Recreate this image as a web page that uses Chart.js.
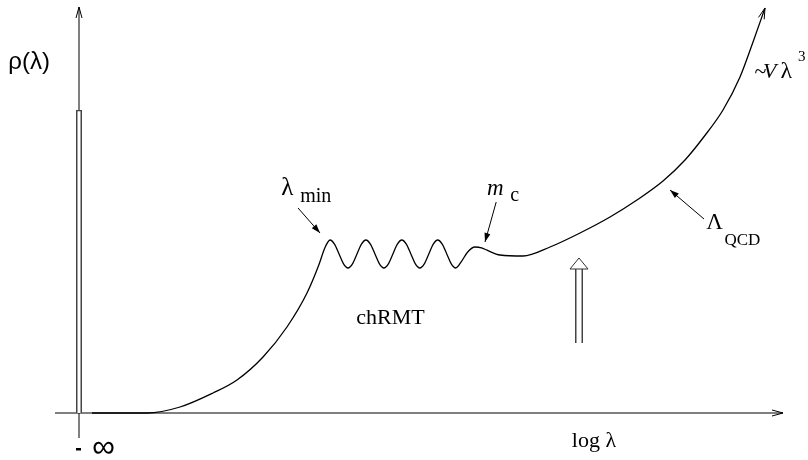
<!DOCTYPE html>
<html>
<head>
<meta charset="utf-8">
<script src="https://cdn.jsdelivr.net/npm/chart.js@4.4.0/dist/chart.umd.min.js"></script>
<style>
html, body { margin: 0; padding: 0; background: #fff; }
#wrap { width: 808px; height: 460px; }
</style>
</head>
<body>
<div id="wrap"><canvas id="rhoChart" width="808" height="460"></canvas></div>
<script>
// spectral density sketch: x = log lambda, y = rho (arbitrary units)
const curveX = [1.86, 9.71, 14.43, 19.14, 22.57, 26.29, 29.71, 32.57, 34.3, 35.1,
  35.86, 36.5, 37.15, 37.79, 38.43, 39.07, 39.71, 40.35,
  40.99, 41.63, 42.28, 42.92, 43.56, 44.2, 44.84, 45.48,
  46.12, 46.76, 47.41, 48.05, 48.69, 49.33, 49.97, 50.61,
  51.25, 51.89, 52.54, 53.18, 53.82, 54.6, 55.5, 56.57, 57.5, 58.29,
  60.14, 63.43, 67.29, 71.57, 75.86, 79.71, 83.43, 86.57, 89.14, 92.0, 94.43, 96.29, 98.0];
const curveY = [0, 0, 1.5, 5, 8.25, 14, 21.5, 30, 37.2, 41.2,
  43.25, 42.22, 39.75, 37.28, 36.25, 37.28, 39.75, 42.22,
  43.25, 42.22, 39.75, 37.28, 36.25, 37.28, 39.75, 42.22,
  43.25, 42.22, 39.75, 37.28, 36.25, 37.28, 39.75, 42.22,
  43.25, 42.22, 39.75, 37.28, 36.25, 37.8, 40.2, 41.5, 41.3, 40.7,
  39.5, 39.25, 41.5, 45, 49, 53.25, 58, 63.25, 68.75, 75.75, 84, 92.75, 101.25];

// delta peak at lambda = 0 (log lambda -> -infinity)
const spikeX = [0, 0];
const spikeY = [0, 75.75];

// hollow arrow marking the scale
const markX = [71.43, 71.43];
const markY = [17.5, 36];
const markTip = 38.75;

const pts = (xs, ys) => xs.map((x, i) => ({ x: x, y: ys[i] }));

// labels: [text, x, y, font]
const labels = [
  ['ρ(λ)', -10.1, 86, '24px "Liberation Sans"'],
  ['chRMT', 39.6, 22.25, '22px "Liberation Serif"'],
  ['log λ', 70.4, -8.5, '22px "Liberation Serif"'],
  ['λ', 28.9, 54.5, '25px "Liberation Serif"'],
  ['min', 31.6, 52.75, '20px "Liberation Serif"'],
  ['m', 58.3, 54.5, 'italic 23px "Liberation Serif"'],
  ['c', 61.6, 53, '20px "Liberation Serif"'],
  ['Λ', 89.6, 46, '23px "Liberation Serif"'],
  ['QCD', 92.2, 42, '17px "Liberation Serif"'],
  ['~', 96.5, 83.75, '22px "Liberation Serif"'],
  ['V', 97.7, 83.75, 'italic 22px "Liberation Serif"'],
  ['λ', 100.2, 83.75, '24px "Liberation Serif"'],
  ['3', 102.7, 88, '15px "Liberation Serif"'],
  ['∞', 1.9, -11, '32px "Liberation Sans"']
];

// pointer arrows: [fromX, fromY, toX, toY]
const pointers = [
  [31.29, 51.25, 34.43, 45],
  [59.6, 52.75, 58.0, 42.75],
  [89.29, 48.5, 84.43, 55.75]
];

function arrowHead(ctx, x1, y1, x2, y2, len, half, filled) {
  const a = Math.atan2(y2 - y1, x2 - x1);
  const bx = x2 - len * Math.cos(a), by = y2 - len * Math.sin(a);
  const px = -Math.sin(a) * half, py = Math.cos(a) * half;
  ctx.beginPath();
  if (filled) {
    ctx.moveTo(x2, y2);
    ctx.lineTo(bx + px, by + py);
    ctx.lineTo(bx - px, by - py);
    ctx.closePath();
    ctx.fill();
  } else {
    ctx.moveTo(bx + px, by + py);
    ctx.lineTo(x2, y2);
    ctx.lineTo(bx - px, by - py);
    ctx.stroke();
  }
}

const sketch = {
  id: 'sketch',
  beforeDatasetsDraw(chart) {
    const { ctx, chartArea, scales: { x, y } } = chart;
    const x0 = x.getPixelForValue(0), y0 = y.getPixelForValue(0);
    ctx.save();
    ctx.strokeStyle = '#000';
    ctx.fillStyle = '#000';
    ctx.lineWidth = 1;
    // y axis
    ctx.beginPath();
    ctx.moveTo(x0, y0 + 25);
    ctx.lineTo(x0, chartArea.top + 4);
    ctx.stroke();
    arrowHead(ctx, x0, y0, x0, chartArea.top + 4, 11, 3, false);
    // x axis
    ctx.beginPath();
    ctx.moveTo(x0 - 24, y0);
    ctx.lineTo(chartArea.right + 4, y0);
    ctx.stroke();
    arrowHead(ctx, x0, y0, chartArea.right + 4, y0, 11, 3, false);
    ctx.restore();
  },
  afterDatasetsDraw(chart) {
    const { ctx, scales: { x, y } } = chart;
    ctx.save();
    ctx.strokeStyle = '#000';
    ctx.fillStyle = '#000';
    ctx.lineWidth = 1;
    // arrow tip on curve end
    const n = curveX.length;
    arrowHead(ctx, x.getPixelForValue(curveX[n - 2]), y.getPixelForValue(curveY[n - 2]),
      x.getPixelForValue(curveX[n - 1]), y.getPixelForValue(curveY[n - 1]), 11, 3, false);
    // pointers
    pointers.forEach(p => {
      const ax = x.getPixelForValue(p[0]), ay = y.getPixelForValue(p[1]);
      const bx = x.getPixelForValue(p[2]), by = y.getPixelForValue(p[3]);
      ctx.beginPath();
      ctx.moveTo(ax, ay);
      ctx.lineTo(bx, by);
      ctx.stroke();
      arrowHead(ctx, ax, ay, bx, by, 9, 3, true);
    });
    // hollow arrow head
    const hx = x.getPixelForValue(markX[1]);
    const hb = y.getPixelForValue(markY[1]);
    const ht = y.getPixelForValue(markTip);
    ctx.beginPath();
    ctx.moveTo(hx, ht);
    ctx.lineTo(hx + 9, hb);
    ctx.lineTo(hx - 9, hb);
    ctx.closePath();
    ctx.fillStyle = '#fff';
    ctx.fill();
    ctx.strokeStyle = '#333';
    ctx.stroke();
    // minus sign of -infinity
    ctx.fillStyle = '#000';
    ctx.fillRect(x.getPixelForValue(0) - 3, y.getPixelForValue(0) + 35, 5, 2.5);
    // labels
    ctx.textBaseline = 'alphabetic';
    ctx.textAlign = 'left';
    labels.forEach(l => {
      ctx.font = l[3];
      ctx.fillText(l[0], x.getPixelForValue(l[1]), y.getPixelForValue(l[2]));
    });
    ctx.restore();
  }
};

new Chart(document.getElementById('rhoChart'), {
  type: 'line',
  data: {
    datasets: [
      {
        data: pts(curveX, curveY),
        borderColor: '#000',
        borderWidth: 1.3,
        pointRadius: 0,
        cubicInterpolationMode: 'monotone',
        clip: false,
        order: 0
      },
      {
        data: pts(spikeX, [spikeY[0], spikeY[1] - 0.3]),
        borderColor: '#fff',
        borderWidth: 3,
        pointRadius: 0,
        clip: false,
        order: 1
      },
      {
        data: pts(spikeX, spikeY),
        borderColor: '#444',
        borderWidth: 6,
        pointRadius: 0,
        clip: false,
        order: 2
      },
      {
        data: pts(markX, [markY[0] - 0.3, markY[1]]),
        borderColor: '#fff',
        borderWidth: 5,
        pointRadius: 0,
        clip: false,
        order: 1
      },
      {
        data: pts(markX, markY),
        borderColor: '#444',
        borderWidth: 8,
        pointRadius: 0,
        clip: false,
        order: 2
      }
    ]
  },
  options: {
    responsive: false,
    animation: false,
    layout: { padding: { left: 79, right: 29, top: 3, bottom: 47 } },
    plugins: { legend: { display: false }, tooltip: { enabled: false } },
    scales: {
      x: { type: 'linear', min: 0, max: 100, display: false },
      y: { type: 'linear', min: 0, max: 102.5, display: false }
    }
  },
  plugins: [sketch]
});
</script>
</body>
</html>
